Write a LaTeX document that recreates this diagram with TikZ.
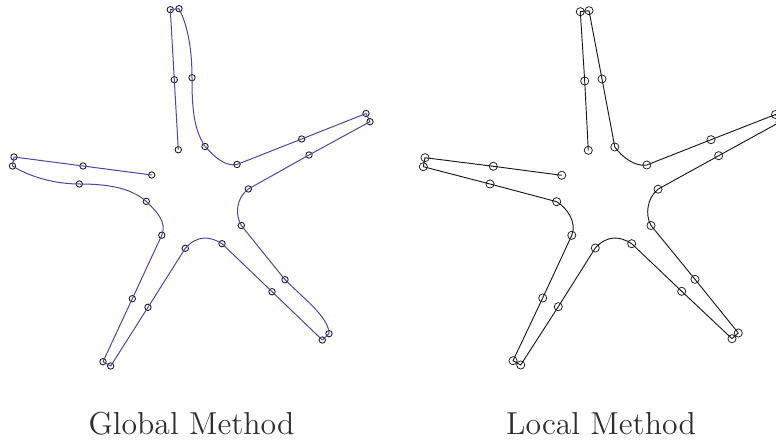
\documentclass[tikz,border=0pt]{standalone}
\definecolor{curveblue}{HTML}{4A46A8}
\definecolor{captiongray}{HTML}{2E2E2E}
\newcommand{\captiontext}[1]{\scalebox{1.985}{\fontsize{12}{14}\selectfont #1}}
\tikzset{
  gp/.style={circle,draw=black!90,line width=0.65pt,inner sep=0pt,minimum size=4.8pt},
  lp/.style={circle,draw=black!85,line width=0.6pt,inner sep=0pt,minimum size=6.1pt},
  gcurve/.style={draw=curveblue,line width=0.75pt,line join=round},
  lcurve/.style={draw=black!90,line width=0.7pt,line join=round},
  caption/.style={text=captiongray,anchor=base,inner sep=0pt}
}
\begin{document}
\begin{tikzpicture}[x=0.75pt,y=-0.75pt]
\clip (0,0) rectangle (776,441);
% Global method
\node[gp] (g1) at (178.3,149.7) {};
\node[gp] (g2) at (174.3,79.7) {};
\node[gp] (g3) at (170.3,9.7) {};
\node[gp] (g4) at (179,8.7) {};
\node[gp] (g5) at (192,77.7) {};
\node[gp] (g6) at (205,146.5) {};
\node[gp] (g7) at (237,164.5) {};
\node[gp] (g8) at (301.7,139) {};
\node[gp] (g9) at (366,113.5) {};
\node[gp] (g10) at (370,121.7) {};
\node[gp] (g11) at (309,155) {};
\node[gp] (g12) at (248.3,189) {};
\node[gp] (g13) at (241.3,225.5) {};
\node[gp] (g14) at (285,279.7) {};
\node[gp] (g15) at (329,333.7) {};
\node[gp] (g16) at (322.3,340) {};
\node[gp] (g17) at (272,291.7) {};
\node[gp] (g18) at (222,243.7) {};
\node[gp] (g19) at (185.3,248.3) {};
\node[gp] (g20) at (148,307.3) {};
\node[gp] (g21) at (110.7,366) {};
\node[gp] (g22) at (103,361.7) {};
\node[gp] (g23) at (132.3,298.7) {};
\node[gp] (g24) at (161.8,235.2) {};
\node[gp] (g25) at (146.3,201.4) {};
\node[gp] (g26) at (79.3,184) {};
\node[gp] (g27) at (12.5,166) {};
\node[gp] (g28) at (14,157) {};
\node[gp] (g29) at (83,166) {};
\node[gp] (g30) at (151.7,175) {};
\path[gcurve] (g1.center) -- (g2.center) -- (g3.center) -- (g4.center)
  .. controls (188,26) and (192,50) .. (g5.center)
  .. controls (192,105) and (193,128) .. (g6.center)
  .. controls (213,155) and (224,167) .. (g7.center)
  -- (g8.center) -- (g9.center) -- (g10.center) -- (g11.center) -- (g12.center)
  .. controls (236,198) and (235,215) .. (g13.center)
  -- (g14.center)
  .. controls (302,297) and (329,317) .. (g15.center)
  -- (g16.center) -- (g17.center) -- (g18.center)
  .. controls (210,236) and (197,235) .. (g19.center)
  -- (g20.center) -- (g21.center) -- (g22.center) -- (g23.center) -- (g24.center)
  .. controls (167,222) and (157,212) .. (g25.center)
  .. controls (130,187) and (105,184) .. (g26.center)
  .. controls (55,184) and (30,177) .. (g27.center)
  -- (g28.center) -- (g29.center) -- (g30.center);
% Local method
\node[lp] (l1) at (588.3,150.3) {};
\node[lp] (l2) at (584.7,81) {};
\node[lp] (l3) at (580.3,11.7) {};
\node[lp] (l4) at (589,10.7) {};
\node[lp] (l5) at (602,79) {};
\node[lp] (l6) at (614.8,147) {};
\node[lp] (l7) at (646.8,165) {};
\node[lp] (l8) at (711,139.7) {};
\node[lp] (l9) at (775.5,114.5) {};
\node[lp] (l10) at (780,122) {};
\node[lp] (l11) at (718.7,155.7) {};
\node[lp] (l12) at (658,189.2) {};
\node[lp] (l13) at (651,225.5) {};
\node[lp] (l14) at (695,279.3) {};
\node[lp] (l15) at (738.3,333) {};
\node[lp] (l16) at (732,338.7) {};
\node[lp] (l17) at (681.7,291.3) {};
\node[lp] (l18) at (631.7,243.7) {};
\node[lp] (l19) at (595.3,248) {};
\node[lp] (l20) at (558.3,306.7) {};
\node[lp] (l21) at (520.7,365) {};
\node[lp] (l22) at (513,360.7) {};
\node[lp] (l23) at (542.7,298) {};
\node[lp] (l24) at (571.8,235.3) {};
\node[lp] (l25) at (556.7,201.7) {};
\node[lp] (l26) at (490,184) {};
\node[lp] (l27) at (423.3,166.7) {};
\node[lp] (l28) at (425,157.7) {};
\node[lp] (l29) at (493.3,166.3) {};
\node[lp] (l30) at (561.7,175.3) {};
\path[lcurve] (l1.center) -- (l2.center) -- (l3.center) -- (l4.center) -- (l5.center) -- (l6.center)
  .. controls (622,157) and (635,167) .. (l7.center)
  -- (l8.center) -- (l9.center) -- (l10.center) -- (l11.center) -- (l12.center)
  .. controls (647,198) and (645,215) .. (l13.center)
  -- (l14.center) -- (l15.center) -- (l16.center) -- (l17.center) -- (l18.center)
  .. controls (620,236) and (607,235) .. (l19.center)
  -- (l20.center) -- (l21.center) -- (l22.center) -- (l23.center) -- (l24.center)
  .. controls (577,222) and (567,208) .. (l25.center)
  -- (l26.center) -- (l27.center) -- (l28.center) -- (l29.center) -- (l30.center);
% Captions
\node[caption] (gcap) at (191.5,434.5) {\captiontext{Global Method}};
\node[caption] (lcap) at (601,434.5) {\captiontext{Local Method}};
\end{tikzpicture}
\end{document}
